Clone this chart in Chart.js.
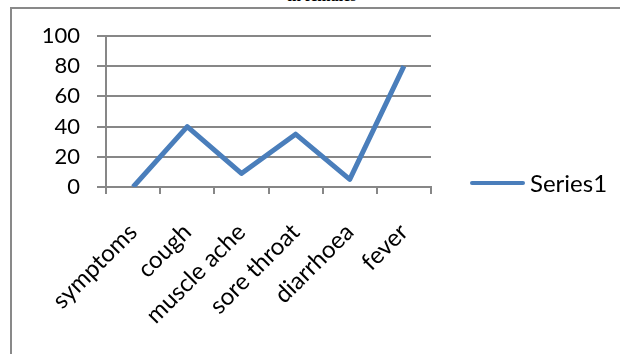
<!DOCTYPE html>
<html><head><meta charset="utf-8">
<script src="https://cdn.jsdelivr.net/npm/chart.js@4"></script>
<style>
html,body{margin:0;padding:0;background:#fff;overflow:hidden;width:620px;height:354px;}
#wrap{position:relative;width:620px;height:354px;overflow:hidden;background:#fff;}
#frame{position:absolute;left:10px;top:7px;width:700px;height:400px;border-left:2px solid #898989;border-top:2px solid #898989;}
#title{position:absolute;left:0;width:644px;top:-12px;text-align:center;font:bold 16px/16px "Liberation Serif";color:#000;}
#c{position:absolute;left:0;top:0;}
#legLine{position:absolute;left:470px;top:180.5px;width:55px;height:4.5px;border-radius:2px;}
#legText{position:absolute;left:530px;top:168px;font:24px/30px Lato;color:#000;white-space:nowrap;}
</style>
</head><body>
<div id="wrap">
  <div id="title">in females</div>
  <div id="frame"></div>
  <canvas id="c" width="620" height="354"></canvas>
  <div id="legLine"></div>
  <div id="legText"></div>
</div>
<script>
const categories = ['symptoms', 'cough', 'muscle ache', 'sore throat', 'diarrhoea', 'fever'];
const series1 = [0, 40, 9, 35, 5, 80];
const yTicks = [0, 20, 40, 60, 80, 100];
const seriesName = 'Series1';
const lineColor = '#4A7EBB';
const axisColor = '#878787';

document.getElementById('legLine').style.background = lineColor;
document.getElementById('legText').textContent = seriesName;

new Chart(document.getElementById('c'), {
  type: 'line',
  data: {
    labels: categories,
    datasets: [{
      label: seriesName,
      data: series1,
      borderColor: lineColor,
      backgroundColor: lineColor,
      borderWidth: 5,
      pointRadius: 0,
      pointHoverRadius: 0,
      tension: 0,
      borderJoinStyle: 'round',
      borderCapStyle: 'butt',
      fill: false
    }]
  },
  options: {
    responsive: false,
    animation: false,
    devicePixelRatio: 1,
    layout: { padding: { top: 36, right: 189, left: 0, bottom: 0 } },
    plugins: { legend: { display: false }, tooltip: { enabled: false }, title: { display: false } },
    scales: {
      x: {
        type: 'category',
        offset: true,
        afterFit: s => { s.height = 167; },
        grid: { drawOnChartArea: false, drawTicks: true, tickLength: 7, color: axisColor, lineWidth: 2, offset: true },
        border: { display: true, color: axisColor, width: 2 },
        ticks: { autoSkip: false, minRotation: 45, maxRotation: 45, padding: 24, color: '#000', font: { family: 'Lato', size: 24 } }
      },
      y: {
        min: 0, max: 100,
        afterFit: s => { s.width = 106; },
        afterBuildTicks: s => { s.ticks = yTicks.map(v => ({ value: v })); },
        grid: { color: axisColor, lineWidth: 2, tickLength: 9, drawTicks: true },
        border: { display: true, color: axisColor, width: 2 },
        ticks: { padding: 17, color: '#000', font: { family: 'Lato', size: 22 } }
      }
    }
  }
});
</script>
</body></html>
